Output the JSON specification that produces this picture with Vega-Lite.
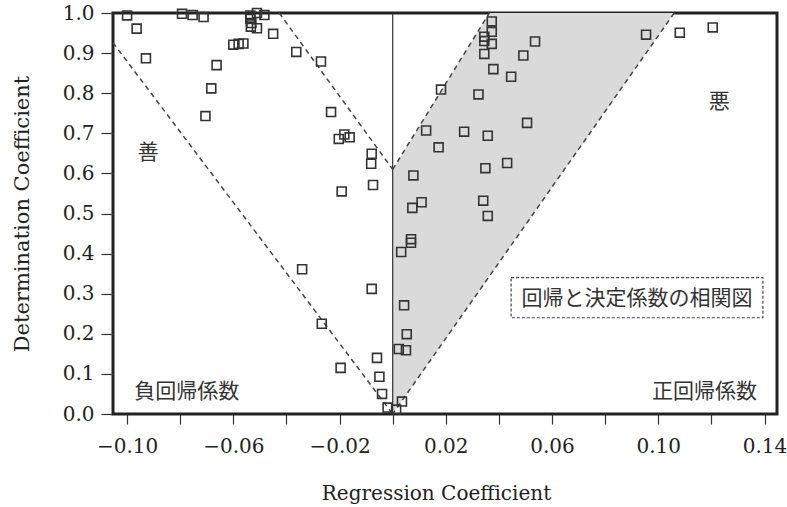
{
  "$schema": "https://vega.github.io/schema/vega-lite/v6.json",
  "width": 664,
  "height": 401,
  "autosize": {"type": "none"},
  "padding": {"left": 113, "top": 13, "right": 10, "bottom": 93},
  "background": "white",
  "config": {
    "view": {"stroke": "#222", "strokeWidth": 3},
    "axis": {
      "domain": false,
      "grid": false,
      "tickColor": "#333",
      "tickWidth": 1.2,
      "labelFont": "DejaVu Serif",
      "labelFontSize": 20,
      "labelColor": "#222",
      "titleFont": "DejaVu Serif",
      "titleFontWeight": "normal",
      "titleColor": "#222",
      "labelFlush": false,
      "labelOverlap": false
    }
  },
  "datasets": {
    "points": [
      {"x": -0.1000, "y": 0.994}, {"x": -0.0964, "y": 0.961}, {"x": -0.0929, "y": 0.887},
      {"x": -0.0793, "y": 0.998}, {"x": -0.0753, "y": 0.995}, {"x": -0.0712, "y": 0.990},
      {"x": -0.0663, "y": 0.870}, {"x": -0.0683, "y": 0.812}, {"x": -0.0705, "y": 0.743},
      {"x": -0.0600, "y": 0.921}, {"x": -0.0580, "y": 0.923}, {"x": -0.0562, "y": 0.924},
      {"x": -0.0536, "y": 0.994}, {"x": -0.0511, "y": 1.000}, {"x": -0.0483, "y": 0.995},
      {"x": -0.0536, "y": 0.985}, {"x": -0.0532, "y": 0.975}, {"x": -0.0534, "y": 0.966},
      {"x": -0.0511, "y": 0.962}, {"x": -0.0450, "y": 0.948}, {"x": -0.0363, "y": 0.903},
      {"x": -0.0270, "y": 0.879}, {"x": -0.0232, "y": 0.753}, {"x": -0.0203, "y": 0.686},
      {"x": -0.0182, "y": 0.697}, {"x": -0.0162, "y": 0.690}, {"x": -0.0079, "y": 0.649},
      {"x": -0.0081, "y": 0.624}, {"x": -0.0192, "y": 0.555}, {"x": -0.0074, "y": 0.571},
      {"x": -0.0341, "y": 0.361}, {"x": -0.0267, "y": 0.225}, {"x": -0.0079, "y": 0.312},
      {"x": -0.0196, "y": 0.115}, {"x": -0.0059, "y": 0.140}, {"x": -0.0050, "y": 0.093},
      {"x": -0.0040, "y": 0.050}, {"x": -0.0019, "y": 0.016}, {"x": 0.0013, "y": 0.011},
      {"x": 0.0032, "y": 0.404}, {"x": 0.0035, "y": 0.031}, {"x": 0.0043, "y": 0.271},
      {"x": 0.0023, "y": 0.162}, {"x": 0.0050, "y": 0.159}, {"x": 0.0053, "y": 0.199},
      {"x": 0.0069, "y": 0.436}, {"x": 0.0069, "y": 0.427}, {"x": 0.0074, "y": 0.514},
      {"x": 0.0109, "y": 0.528}, {"x": 0.0341, "y": 0.532}, {"x": 0.0358, "y": 0.494},
      {"x": 0.0373, "y": 0.979}, {"x": 0.0373, "y": 0.953}, {"x": 0.0345, "y": 0.941},
      {"x": 0.0345, "y": 0.930}, {"x": 0.0373, "y": 0.923}, {"x": 0.0345, "y": 0.898},
      {"x": 0.0536, "y": 0.929}, {"x": 0.0492, "y": 0.894}, {"x": 0.0379, "y": 0.860},
      {"x": 0.0446, "y": 0.841}, {"x": 0.0182, "y": 0.809}, {"x": 0.0323, "y": 0.797},
      {"x": 0.0506, "y": 0.726}, {"x": 0.0126, "y": 0.707}, {"x": 0.0269, "y": 0.704},
      {"x": 0.0358, "y": 0.694}, {"x": 0.0173, "y": 0.665}, {"x": 0.0431, "y": 0.626},
      {"x": 0.0349, "y": 0.613}, {"x": 0.0078, "y": 0.595}, {"x": 0.0954, "y": 0.946},
      {"x": 0.1081, "y": 0.951}, {"x": 0.1205, "y": 0.964}
    ],
    "shade": [
      {"y": 0, "x": 0, "x2": 0},
      {"y": 0.61, "x": 0, "x2": 0.0647},
      {"y": 1, "x": 0.0364, "x2": 0.106}
    ],
    "lines": [
      {"x": -0.1053, "y": 0.926, "x2": 0, "y2": 0},
      {"x": -0.0427, "y": 1, "x2": 0, "y2": 0.61},
      {"x": 0, "y": 0.61, "x2": 0.0364, "y2": 1},
      {"x": 0.106, "y": 1, "x2": 0, "y2": 0}
    ],
    "zero": [{"x": 0, "y": 0, "y2": 1}],
    "box": [{"x": 0.0446, "x2": 0.1394, "y": 0.240, "y2": 0.340}],
    "labels": [
      {"x": -0.092, "y": 0.652, "label": "善"},
      {"x": 0.123, "y": 0.779, "label": "悪"},
      {"x": -0.0775, "y": 0.056, "label": "負回帰係数"},
      {"x": 0.1174, "y": 0.056, "label": "正回帰係数"},
      {"x": 0.092, "y": 0.288, "label": "回帰と決定係数の相関図"}
    ]
  },
  "encoding": {
    "x": {
      "field": "x",
      "type": "quantitative",
      "scale": {"domain": [-0.1053, 0.1447], "nice": false, "zero": false},
      "axis": {
        "title": "Regression Coefficient",
        "titleFontSize": 20,
        "values": [-0.1, -0.08, -0.06, -0.04, -0.02, 0, 0.02, 0.04, 0.06, 0.08, 0.1, 0.12, 0.14],
        "labelExpr": "abs(round(datum.value * 100)) % 4 == 2 ? format(datum.value, '.2f') : ''",
        "tickSize": 10,
        "labelPadding": 12,
        "titlePadding": 27,
        "titleX": 323
      }
    },
    "y": {
      "field": "y",
      "type": "quantitative",
      "scale": {"domain": [0, 1], "nice": false, "zero": false},
      "axis": {
        "title": "Determination Coefficient",
        "titleFontSize": 21,
        "values": [0, 0.1, 0.2, 0.3, 0.4, 0.5, 0.6, 0.7, 0.8, 0.9, 1],
        "format": ".1f",
        "tickSize": 12,
        "labelPadding": 7,
        "titlePadding": 30
      }
    }
  },
  "layer": [
    {
      "data": {"name": "shade"},
      "mark": {"type": "area", "orient": "horizontal", "color": "#dadada", "opacity": 1},
      "encoding": {"x2": {"field": "x2"}}
    },
    {
      "data": {"name": "zero"},
      "mark": {"type": "rule", "color": "#333", "strokeWidth": 1.2},
      "encoding": {"y2": {"field": "y2"}}
    },
    {
      "data": {"name": "lines"},
      "mark": {"type": "rule", "color": "#444", "strokeWidth": 1.5, "strokeDash": [5, 4]},
      "encoding": {"x2": {"field": "x2"}, "y2": {"field": "y2"}}
    },
    {
      "data": {"name": "box"},
      "mark": {"type": "rect", "filled": false, "stroke": "#444", "strokeWidth": 1.2, "strokeDash": [3, 2]},
      "encoding": {"x2": {"field": "x2"}, "y2": {"field": "y2"}}
    },
    {
      "data": {"name": "labels"},
      "mark": {"type": "text", "font": "Noto Sans CJK JP", "fontSize": 21, "color": "#333", "align": "center", "baseline": "middle"},
      "encoding": {"text": {"field": "label"}}
    },
    {
      "data": {"name": "points"},
      "mark": {"type": "point", "shape": "square", "filled": false, "size": 80, "stroke": "#333", "strokeWidth": 1.6, "opacity": 1}
    }
  ]
}
